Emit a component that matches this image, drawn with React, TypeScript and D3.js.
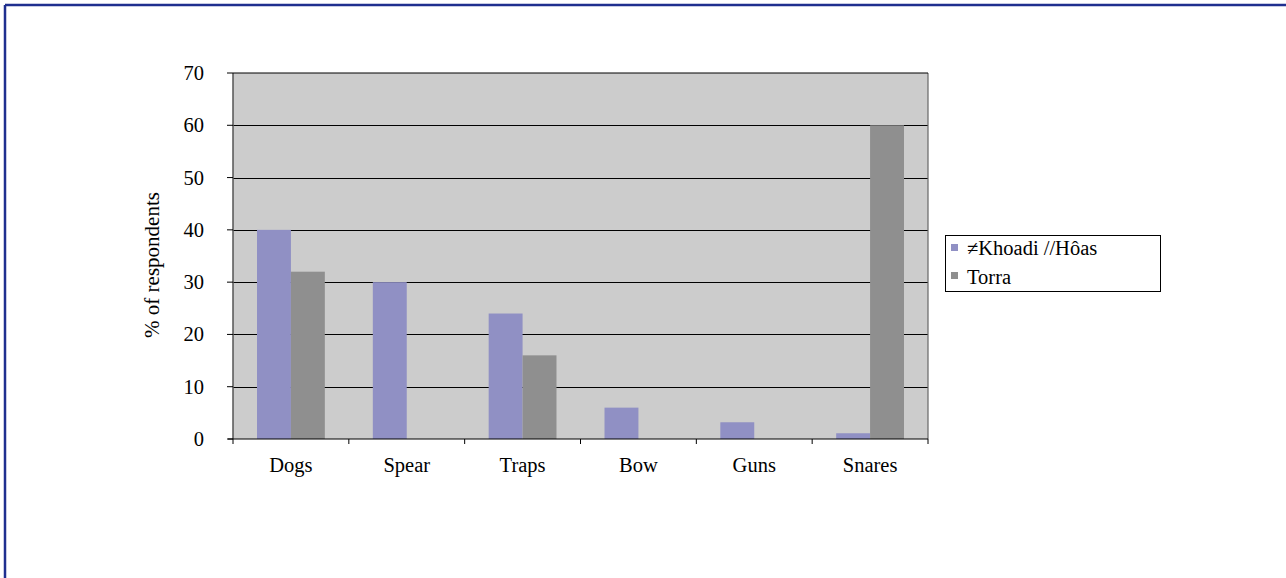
import React from "react";
import * as d3 from "d3";

const categories = ["Dogs", "Spear", "Traps", "Bow", "Guns", "Snares"];
const seriesNames = ["\u2260Khoadi //Hôas", "Torra"];
const khoadi = [40, 30, 24, 6, 3.2, 1.1];
const torra = [32, 0, 16, 0, 0, 60];
const yTicks = [0, 10, 20, 30, 40, 50, 60, 70];
const colors = ["#9090c4", "#8f8f8f"];

export default function App() {
  const W = 1286, H = 578;
  const left = 233, right = 928, top = 73, bottom = 439;
  const x = d3.scaleBand().domain(categories).range([left, right]).paddingInner(0).paddingOuter(0);
  const y = d3.scaleLinear().domain([0, 70]).range([bottom, top]);
  const groupPad = 24;
  const barW = (x.bandwidth() - 2 * groupPad) / 2;
  const series = [khoadi, torra];
  const font = "'Liberation Serif', 'Times New Roman', serif";
  const fs = 20.5;
  return (
    <svg width={W} height={H} style={{ position: "absolute", left: 0, top: 0, background: "#fff" }}>
      <line x1={5} y1={5} x2={W} y2={5} stroke="#1f2f8f" strokeWidth={2.5} />
      <line x1={5} y1={5} x2={5} y2={H} stroke="#1f2f8f" strokeWidth={2.5} />
      <rect x={left} y={top} width={right - left} height={bottom - top} fill="#cccccc" />
      {yTicks.filter((t) => t > 0 && t < 70).map((t) => (
        <line key={t} x1={left} x2={right} y1={Math.round(y(t)) + 0.5} y2={Math.round(y(t)) + 0.5} stroke="#000" strokeWidth={1} />
      ))}
      {series.map((vals, si) =>
        vals.map((v, i) =>
          v > 0 ? (
            <rect key={si + "-" + i} x={(x(categories[i]) as number) + groupPad + si * barW} y={y(v)} width={barW} height={bottom - y(v)} fill={colors[si]} />
          ) : null
        )
      )}
      <line x1={left} x2={left} y1={top} y2={bottom} stroke="#555" strokeWidth={1.5} />
      <line x1={right} x2={right} y1={top} y2={bottom} stroke="#666" strokeWidth={1.2} />
      <line x1={left} x2={right} y1={top} y2={top} stroke="#000" strokeWidth={1} />
      <line x1={left - 5} x2={right} y1={bottom} y2={bottom} stroke="#000" strokeWidth={1.2} />
      {yTicks.map((t) => (
        <g key={t}>
          <line x1={left - 6} x2={left} y1={y(t)} y2={y(t)} stroke="#000" strokeWidth={1} />
          <text x={204} y={y(t) + 7} textAnchor="end" fontFamily={font} fontSize={fs}>{t}</text>
        </g>
      ))}
      {d3.range(categories.length + 1).map((i) => {
        const xx = left + i * x.bandwidth();
        return <line key={i} x1={xx} x2={xx} y1={bottom} y2={bottom + 5} stroke="#000" strokeWidth={1} />;
      })}
      {categories.map((c) => (
        <text key={c} x={(x(c) as number) + x.bandwidth() / 2} y={472} textAnchor="middle" fontFamily={font} fontSize={fs}>{c}</text>
      ))}
      <text transform={`translate(159,265) rotate(-90)`} textAnchor="middle" fontFamily={font} fontSize={21}>% of respondents</text>
      <rect x={945.5} y={235.5} width={215} height={56} fill="#fff" stroke="#000" strokeWidth={1} />
      {seriesNames.map((n, i) => (
        <g key={n}>
          <rect x={951} y={244 + i * 28} width={7} height={7} fill={colors[i]} />
          <text x={967} y={255 + i * 28.5} fontFamily={font} fontSize={fs}>{n}</text>
        </g>
      ))}
    </svg>
  );
}
